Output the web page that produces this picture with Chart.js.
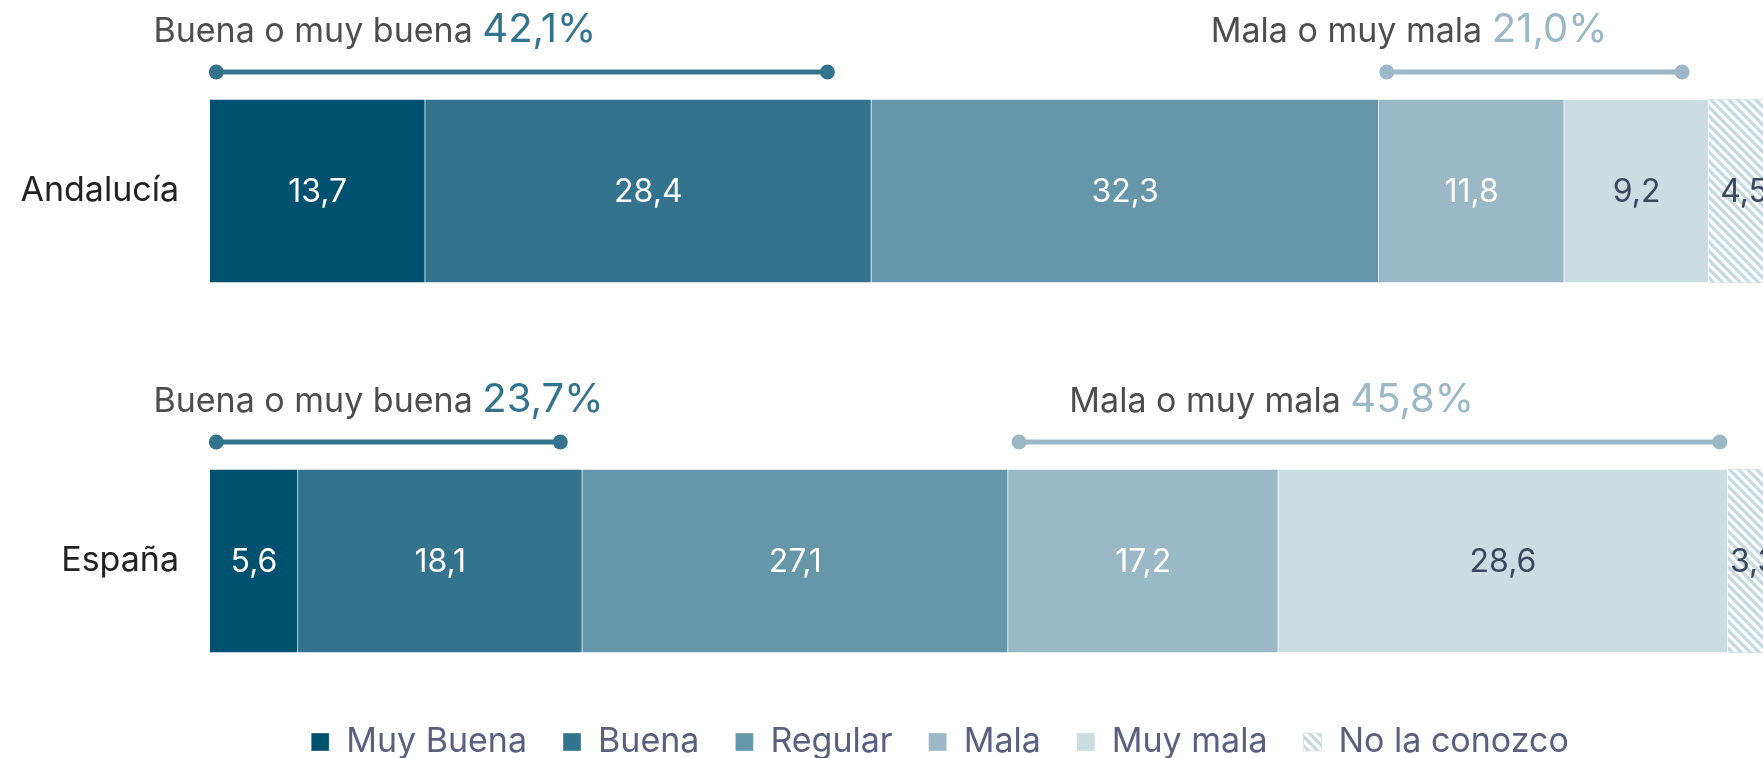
<!DOCTYPE html>
<html>
<head>
<meta charset="utf-8">
<script src="https://cdn.jsdelivr.net/npm/chart.js@4"></script>
<style>
  html, body { margin: 0; padding: 0; background: #fff; }
  #wrap { width: 1763px; height: 758px; }
</style>
</head>
<body>
<div id="wrap"><canvas id="chart"></canvas></div>
<script>
// Valoración de la situación (%)
const regions = ['Andalucía', 'España'];
const seriesNames = ['Muy Buena', 'Buena', 'Regular', 'Mala', 'Muy mala', 'No la conozco'];
const muyBuena = [13.7, 5.6];
const buena = [28.4, 18.1];
const regular = [32.3, 27.1];
const mala = [11.8, 17.2];
const muyMala = [9.2, 28.6];
const noConozco = [4.5, 3.3];

// bracket ranges drawn above each bar (in % of the axis)
const goodBracket = [[0.4, 39.3], [0.4, 22.3]];
const badBracket = [[74.9, 93.7], [51.5, 96.1]];
const goodLabelAt = [-3.6, -3.6];
const badLabelAt = [63.7, 54.7];

const colors = ['#00516f', '#34738e', '#6696aa', '#9ab8c6', '#cbdce3'];
const labelColors = ['#ffffff', '#ffffff', '#ffffff', '#ffffff', '#3b4660', '#3b4660'];
const goodColor = '#34738e';
const badColor = '#9ab8c6';
const FONT = 'Inter, "Open Sans", sans-serif';

function fmt(v) {
    return v.toFixed(1).replace('.', ',');
}

// diagonal hatch for "No la conozco"
function makeHatch() {
    const s = 9;
    const c = document.createElement('canvas');
    c.width = s; c.height = s;
    const g = c.getContext('2d');
    g.fillStyle = '#ffffff';
    g.fillRect(0, 0, s, s);
    g.strokeStyle = '#c5d9df';
    g.lineWidth = 3.2;
    g.beginPath();
    g.moveTo(-s, 0); g.lineTo(s, 2 * s);
    g.moveTo(0, 0); g.lineTo(s, s);
    g.moveTo(0, -s); g.lineTo(2 * s, s);
    g.stroke();
    return document.getElementById('chart').getContext('2d').createPattern(c, 'repeat');
}

const seriesData = [muyBuena, buena, regular, mala, muyMala, noConozco];
const hatch = makeHatch();

const datasets = seriesData.map((d, i) => ({
    label: seriesNames[i],
    data: d,
    backgroundColor: i < 5 ? colors[i] : hatch,
    borderColor: i < 5 ? 'rgba(255,255,255,0.35)' : '#dde4e7',
    borderWidth: 1,
    barThickness: 184,
    clip: false
}));

// value labels in the middle of each segment
const valueLabels = {
    id: 'valueLabels',
    afterDatasetsDraw(chart) {
        const ctx = chart.ctx;
        ctx.save();
        ctx.font = '400 32px ' + FONT;
        ctx.textAlign = 'center';
        ctx.textBaseline = 'middle';
        chart.data.datasets.forEach((ds, i) => {
            chart.getDatasetMeta(i).data.forEach((bar, j) => {
                ctx.fillStyle = labelColors[i];
                ctx.fillText(fmt(ds.data[j]), (bar.x + bar.base) / 2, bar.y + 1);
            });
        });
        ctx.restore();
    }
};

// region names, and the "Buena o muy buena" / "Mala o muy mala" brackets
const brackets = {
    id: 'brackets',
    afterDraw(chart) {
        const ctx = chart.ctx;
        const xs = chart.scales.x;
        const ys = chart.scales.y;

        function bracket(range, color, y) {
            const x0 = xs.getPixelForValue(range[0]);
            const x1 = xs.getPixelForValue(range[1]);
            ctx.strokeStyle = color;
            ctx.fillStyle = color;
            ctx.lineWidth = 5;
            ctx.beginPath();
            ctx.moveTo(x0, y);
            ctx.lineTo(x1, y);
            ctx.stroke();
            [x0, x1].forEach(x => {
                ctx.beginPath();
                ctx.arc(x, y, 7.5, 0, Math.PI * 2);
                ctx.fill();
            });
        }

        function label(text, pct, at, color, y) {
            const x = xs.getPixelForValue(at);
            ctx.textAlign = 'left';
            ctx.textBaseline = 'alphabetic';
            ctx.font = '400 34px ' + FONT;
            ctx.fillStyle = '#4d4d4d';
            ctx.fillText(text, x, y);
            const w = ctx.measureText(text + ' ').width;
            ctx.font = '400 40px ' + FONT;
            ctx.fillStyle = color;
            ctx.fillText(fmt(pct) + '%', x + w, y);
        }

        ctx.save();
        regions.forEach((r, j) => {
            const yc = ys.getPixelForValue(j);
            ctx.font = '400 34px ' + FONT;
            ctx.fillStyle = '#222222';
            ctx.textAlign = 'right';
            ctx.textBaseline = 'middle';
            ctx.fillText(r, chart.chartArea.left - 31, yc);

            const top = yc - 92;
            bracket(goodBracket[j], goodColor, top - 27);
            bracket(badBracket[j], badColor, top - 27);
            label('Buena o muy buena', muyBuena[j] + buena[j], goodLabelAt[j], goodColor, top - 57);
            label('Mala o muy mala', mala[j] + muyMala[j], badLabelAt[j], badColor, top - 57);
        });
        ctx.restore();
    }
};

new Chart(document.getElementById('chart'), {
    type: 'bar',
    data: { labels: regions, datasets: datasets },
    options: {
        indexAxis: 'y',
        responsive: true,
        maintainAspectRatio: false,
        animation: false,
        layout: { padding: { left: 117, right: 0, top: 191, bottom: -11 } },
        scales: {
            x: {
                stacked: true,
                min: 0,
                max: 98.85,
                grid: { display: false },
                border: { display: false },
                ticks: { display: false },
                afterFit(scale) { scale.height = 128; }
            },
            y: {
                stacked: true,
                offset: false,
                grid: { display: false, drawTicks: false },
                border: { display: false },
                ticks: { display: false },
                afterFit(scale) { scale.width = 93; }
            }
        },
        plugins: {
            tooltip: { enabled: false },
            legend: {
                position: 'bottom',
                labels: {
                    boxWidth: 18,
                    boxHeight: 18,
                    padding: 36,
                    color: '#5b5f7f',
                    font: { family: FONT, size: 34 }
                }
            }
        }
    },
    plugins: [valueLabels, brackets]
});
</script>
</body>
</html>
